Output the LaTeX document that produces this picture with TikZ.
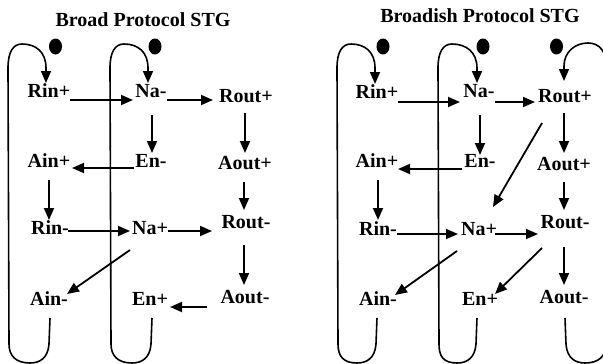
\documentclass[tikz,border=0pt]{standalone}
\usepackage{fontspec}
\setmainfont{Liberation Serif}
\usetikzlibrary{arrows.meta,calc,shapes.geometric}
\tikzset{
  lbl/.style={anchor=base, inner sep=0pt, font=\fontsize{20}{24}\selectfont\bfseries},
  arr/.style={line width=1.8pt, -{Triangle[length=12pt,width=10pt]}},
  looparr/.style={line width=1.6pt, line join=round, -{Triangle[length=12pt,width=10pt]}},
  token/.style={ellipse, fill=black, inner sep=0pt, minimum width=13pt, minimum height=16pt}
}
\begin{document}
\begin{tikzpicture}[x=1pt,y=-1pt]
\useasboundingbox (0,0) rectangle (603,364);
\begin{scope}
\clip (0,0) rectangle (603,364);
% titles
\node[lbl] (Ltitle) at (143,26) {Broad Protocol STG};
\node[lbl] (Rtitle) at (480,23) {Broadish Protocol STG};
% left nodes
\node[lbl] (Lrinp) at (49,97) {Rin+};
\node[lbl] (Lnam) at (151,97) {Na-};
\node[lbl] (Lroutp) at (246,102) {Rout+};
\node[lbl] (Lainp) at (49,167) {Ain+};
\node[lbl] (Lenm) at (151,167) {En-};
\node[lbl] (Laoutp) at (245,169) {Aout+};
\node[lbl] (Lrinm) at (50,234) {Rin-};
\node[lbl] (Lnap) at (150,234) {Na+};
\node[lbl] (Lroutm) at (246,228) {Rout-};
\node[lbl] (Lainm) at (49,305) {Ain-};
\node[lbl] (Lenp) at (150,305) {En+};
\node[lbl] (Laoutm) at (245,303) {Aout-};
% right nodes
\node[lbl] (Rrinp) at (377,98) {Rin+};
\node[lbl] (Rnam) at (479,97) {Na-};
\node[lbl] (Rroutp) at (565,102) {Rout+};
\node[lbl] (Rainp) at (377,167) {Ain+};
\node[lbl] (Renm) at (480,167) {En-};
\node[lbl] (Raoutp) at (564,170) {Aout+};
\node[lbl] (Rrinm) at (378,235) {Rin-};
\node[lbl] (Rnap) at (479,235) {Na+};
\node[lbl] (Rroutm) at (565,228) {Rout-};
\node[lbl] (Rainm) at (378,305) {Ain-};
\node[lbl] (Renp) at (480,305) {En+};
\node[lbl] (Raoutm) at (564,303) {Aout-};
% tokens
\node[token] (Ltok1) at (55.5,46.5) {};
\node[token] (Ltok2) at (155,46.5) {};
\node[token] (Rtok1) at (383,46.5) {};
\node[token] (Rtok2) at (483,46.5) {};
\node[token] (Rtok3) at (556.5,46.5) {};
% left arrows
\draw[arr] ($(Lrinp.base)+(21,3)$) -- ($(Lnam.base)+(-18,3)$);
\draw[arr] ($(Lnam.base)+(16,3)$) -- ($(Lroutp.base)+(-33,-2)$);
\draw[arr] ($(Lnam.base)+(1,18)$) -- ($(Lenm.base)+(1,-14)$);
\draw[arr] ($(Lroutp.base)+(-1,11)$) -- ($(Laoutp.base)+(0,-16)$);
\draw[arr] ($(Lenm.base)+(-17,1)$) -- ($(Lainp.base)+(23,1)$);
\draw[arr] ($(Lainp.base)+(0,13)$) -- ($(Lrinm.base)+(-1,-14)$);
\draw[arr] ($(Laoutp.base)+(-1,13)$) -- ($(Lroutm.base)+(-2,-18)$);
\draw[arr] ($(Lrinm.base)+(18,-3)$) -- ($(Lnap.base)+(-20,-3)$);
\draw[arr] ($(Lnap.base)+(18,-3)$) -- ($(Lroutm.base)+(-34,3)$);
\draw[arr] ($(Lroutm.base)+(-2,17)$) -- ($(Laoutm.base)+(-1,-18)$);
\draw[arr] ($(Lnap.base)+(-20,16)$) -- ($(Lainm.base)+(18,-11)$);
\draw[arr] ($(Laoutm.base)+(-38,4)$) -- ($(Lenp.base)+(20,2)$);
% right arrows
\draw[arr] ($(Rrinp.base)+(21,4)$) -- ($(Rnam.base)+(-19,5)$);
\draw[arr] ($(Rnam.base)+(16,5)$) -- ($(Rroutp.base)+(-30,0)$);
\draw[arr] ($(Rnam.base)+(1,18)$) -- ($(Renm.base)+(0,-12)$);
\draw[arr] ($(Rroutp.base)+(-1,11)$) -- ($(Raoutp.base)+(0,-17)$);
\draw[arr] ($(Renm.base)+(-18,2)$) -- ($(Rainp.base)+(21,2)$);
\draw[arr] ($(Rainp.base)+(1,13)$) -- ($(Rrinm.base)+(0,-15)$);
\draw[arr] ($(Raoutp.base)+(0,12)$) -- ($(Rroutm.base)+(-1,-18)$);
\draw[arr] ($(Rrinm.base)+(19,-1)$) -- ($(Rnap.base)+(-21,-1)$);
\draw[arr] ($(Rnap.base)+(16,-1)$) -- ($(Rroutm.base)+(-27,6)$);
\draw[arr] ($(Rroutm.base)+(-1,19)$) -- ($(Raoutm.base)+(0,-18)$);
\draw[arr] ($(Rnap.base)+(-22,16)$) -- ($(Rainm.base)+(17,-10)$);
\draw[arr] ($(Rroutm.base)+(-23,20)$) -- ($(Renp.base)+(15,-11)$);
\draw[arr] ($(Rroutp.base)+(-23,21)$) -- ($(Rnap.base)+(14,-28)$);
% loops
\draw[looparr] ($(Lainm.base)+(1,13)$) -- (49,344) .. controls (48,358) and (40,363) .. (30,363)
  .. controls (16,363) and (9,356) .. (9,344) -- (8,68) .. controls (8,52) and (13,44) .. (22,44)
  .. controls (36,44) and (46,52) .. (46,68) -- ($(Lrinp.base)+(-3,-14)$);
\draw[looparr] ($(Lenp.base)+(2,13)$) -- (151,344) .. controls (150,358) and (142,363) .. (132,363)
  .. controls (118,363) and (111,356) .. (111,344) -- (110,68) .. controls (110,52) and (115,44) .. (124,44)
  .. controls (138,44) and (148,52) .. (148,68) -- ($(Lnam.base)+(-3,-14)$);
\draw[looparr] ($(Rainm.base)+(-1,13)$) -- (376,344) .. controls (375,358) and (367,363) .. (357,363)
  .. controls (343,363) and (338,356) .. (338,344) -- (337,68) .. controls (337,52) and (342,44) .. (351,44)
  .. controls (365,44) and (375,52) .. (375,68) -- ($(Rrinp.base)+(-2,-14)$);
\draw[looparr] ($(Renp.base)+(-3,13)$) -- (476,344) .. controls (475,358) and (467,363) .. (457,363)
  .. controls (443,363) and (439,356) .. (439,344) -- (438,68) .. controls (438,52) and (443,44) .. (452,44)
  .. controls (466,44) and (477,52) .. (477,68) -- ($(Rnam.base)+(-2,-14)$);
\draw[looparr] ($(Raoutm.base)+(1,15)$) -- (566,344) .. controls (567,358) and (575,363) .. (585,363)
  .. controls (599,363) and (606,356) .. (606,344) -- (607,70) .. controls (607,52) and (600,43) .. (588,43)
  .. controls (575,43) and (564,52) .. (564,66) -- ($(Rroutp.base)+(-1,-21)$);
\end{scope}
\end{tikzpicture}
\end{document}
